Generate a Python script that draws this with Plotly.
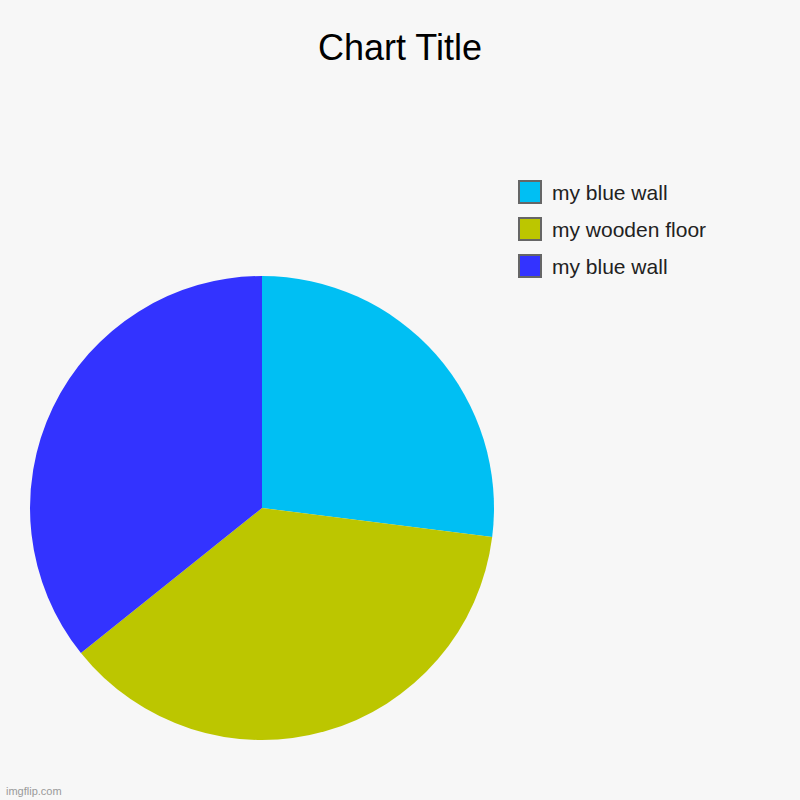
import plotly.graph_objects as go

# Valores (percentuais aproximados)
rotulos = ["my blue wall", "my wooden floor", "my blue wall"]
valores = [27.0, 37.25, 35.75]
cores = ["#00BFF3", "#BCC600", "#3333FF"]

W = 800
H = 800

# rótulos repetidos seriam fundidos pelo pie -> sufixo invisível
rotulos_unicos = [r + "\u200b" * i for i, r in enumerate(rotulos)]

fig = go.Figure(
    go.Pie(
        labels=rotulos_unicos,
        values=valores,
        marker=dict(colors=cores, line=dict(width=0)),
        sort=False,
        direction="clockwise",
        rotation=0,
        textinfo="none",
        hoverinfo="label+value",
        showlegend=False,
        domain=dict(x=[30 / W, 494 / W], y=[1 - 740 / H, 1 - 276 / H]),
    )
)

# legenda desenhada à mão (quadrados maiores com borda cinza)
for i, (rot, cor) in enumerate(zip(rotulos, cores)):
    topo = 181 + 37 * i
    fig.add_shape(
        type="rect", xref="paper", yref="paper",
        x0=519 / W, x1=541 / W, y0=1 - topo / H, y1=1 - (topo + 22) / H,
        fillcolor=cor, line=dict(color="#666666", width=2),
    )
    fig.add_annotation(
        x=550 / W, y=1 - (topo + 11) / H, xref="paper", yref="paper",
        text=rot, showarrow=False, xanchor="left", yanchor="middle",
        font=dict(size=21, color="#222222", family="Liberation Sans, Arial"),
    )

fig.add_annotation(
    x=4 / W, y=1 - 791 / H, xref="paper", yref="paper",
    text="imgflip.com", showarrow=False, xanchor="left", yanchor="middle",
    font=dict(size=11, color="#9a9a9a", family="Liberation Sans, Arial"),
)

fig.update_layout(
    title=dict(
        text="Chart Title", x=0.5, xanchor="center", y=1 - 47 / H, yanchor="middle",
        font=dict(size=36, color="#000000", family="Liberation Sans, Arial"),
    ),
    width=W,
    height=H,
    margin=dict(l=0, r=0, t=0, b=0),
    paper_bgcolor="#F7F7F7",
    plot_bgcolor="#F7F7F7",
    font=dict(family="Liberation Sans, Arial"),
)

# tira a margem padrão do <body> e a barra de ferramentas
fig.write_html(
    "out.html",
    config={"displayModeBar": False},
    post_script="document.body.style.margin='0';",
)
